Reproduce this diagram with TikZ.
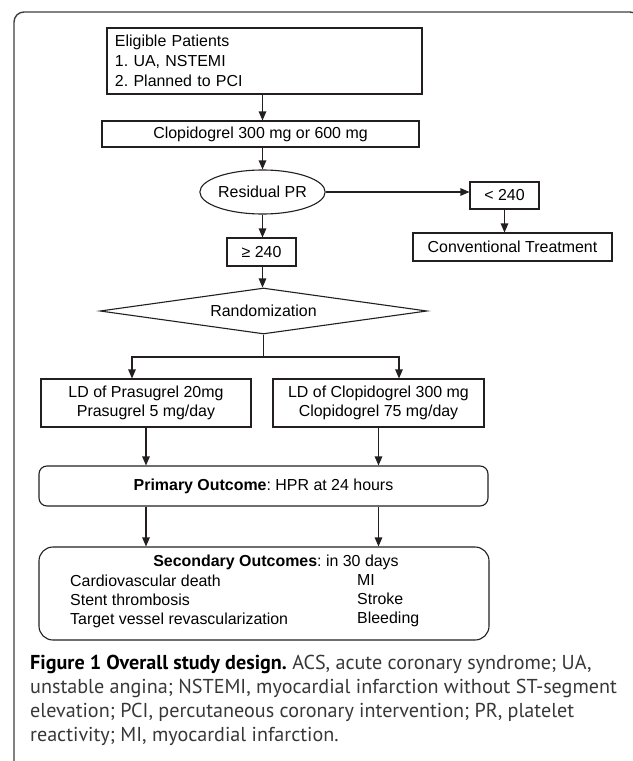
\documentclass[tikz,border=0pt]{standalone}
\usepackage{fontspec}
\setmainfont{Liberation Sans}
\newfontfamily\capfont{PT Sans}
\usetikzlibrary{arrows.meta,shapes.geometric}
\definecolor{ink}{HTML}{231F20}
\frenchspacing
\begin{document}
\begin{tikzpicture}[x=1bp,y=-1bp,
  font=\fontsize{16}{20}\selectfont,
  box/.style={draw=ink, line width=1.1bp, rectangle, inner sep=0pt, align=center},
  arr/.style={draw=ink, line width=1.1bp, -{Triangle[length=9bp,width=7.5bp]}},
  ln/.style={draw=ink, line width=1.1bp},
  ]
\useasboundingbox (0,0) rectangle (633,761);
\clip (0,0) rectangle (633,761);
\fill[white] (0,0) rectangle (633,761);
\draw[line width=1.4bp, black!75, rounded corners=10bp] (14,800) -- (14,12) -- (640,12) -- (640,800);

\node[box, text width=299bp, inner xsep=8bp, minimum height=66bp, align=left] (elig) at (264.5,61) {Eligible Patients\\1. UA, NSTEMI\\2. Planned to PCI};
\node[box, minimum width=317bp, minimum height=26bp] (clop) at (260.5,134) {Clopidogrel 300 mg or 600 mg};
\node[draw=ink, line width=1.1bp, ellipse, inner sep=0pt, minimum width=119bp, minimum height=44bp] (ell) at (262.5,192) {Residual PR};
\node[box, minimum width=69bp, minimum height=28bp] (ge) at (261.5,252) {≥ 240};
\node[box, minimum width=69bp, minimum height=27bp] (lt) at (504.5,195.5) {< 240};
\node[box, minimum width=199bp, minimum height=28bp] (conv) at (512.5,247) {Conventional Treatment};
\node[draw=ink, line width=1.1bp, diamond, shape aspect=7.1, inner sep=0pt, minimum width=327bp, minimum height=46bp] (rand) at (263.5,311) {Randomization};
\node[box, minimum width=210bp, minimum height=48bp, font=\fontsize{16}{19}\selectfont] (lda) at (146,403) {LD of Prasugrel 20mg\\Prasugrel 5 mg/day};
\node[box, minimum width=211bp, minimum height=48bp, font=\fontsize{16}{19}\selectfont] (ldb) at (378.5,403) {LD of Clopidogrel 300 mg\\Clopidogrel 75 mg/day};
\node[box, rounded corners=8bp, minimum width=449bp, minimum height=40bp] (prim) at (263.5,486) {\textbf{Primary Outcome}: HPR at 24 hours};
\node[box, rounded corners=14bp, minimum width=450bp, minimum height=93bp] (sec) at (264,593.5) {};
\node[inner sep=0pt] (sech) at (276,562) {\textbf{Secondary Outcomes}: in 30 days};
\node[anchor=west, align=left, inner sep=0pt, font=\fontsize{16}{19}\selectfont] (secl) at (70,601) {Cardiovascular death\\Stent thrombosis\\Target vessel revascularization};
\node[anchor=west, align=left, inner sep=0pt, font=\fontsize{16}{19}\selectfont] (secr) at (357,601) {MI\\Stroke\\Bleeding};

\coordinate (brl) at (132,357);
\coordinate (brr) at (399,357);

\draw[arr] (elig.south -| ell.center) -- (clop.north -| ell.center);
\draw[arr] (clop.south -| ell.center) -- (ell.north);
\draw[arr] (ell.south) -- (ge.north -| ell.south);
\draw[arr] (ge.south -| ell.center) -- (rand.north -| ell.center);
\draw[arr] (ell.east) -- (ell.east -| lt.west);
\draw[arr] (lt.south) -- (lt.south |- conv.north);
\draw[arr] (rand.south) -- (rand.south |- brl) -- (brl) -- (brl |- lda.north);
\draw[arr] (rand.south |- brr) -- (brr) -- (brr |- ldb.north);
\draw[arr] (lda.south) -- (lda.south |- prim.north);
\draw[arr] (ldb.south) -- (ldb.south |- prim.north);
\draw[arr] (prim.south -| lda.south) -- (sec.north -| lda.south);
\draw[arr] (prim.south -| ldb.south) -- (sec.north -| ldb.south);

\node[anchor=north west, align=left, inner sep=0pt, font=\capfont\fontsize{20.2}{24}\selectfont, text=black!78] (cap) at (30,655)
{\textcolor{black}{\bfseries Figure 1 Overall study design.} ACS, acute coronary syndrome; UA,\\
unstable angina; NSTEMI, myocardial infarction without ST-segment\\
elevation; PCI, percutaneous coronary intervention; PR, platelet\\
reactivity; MI, myocardial infarction.};
\end{tikzpicture}
\end{document}
